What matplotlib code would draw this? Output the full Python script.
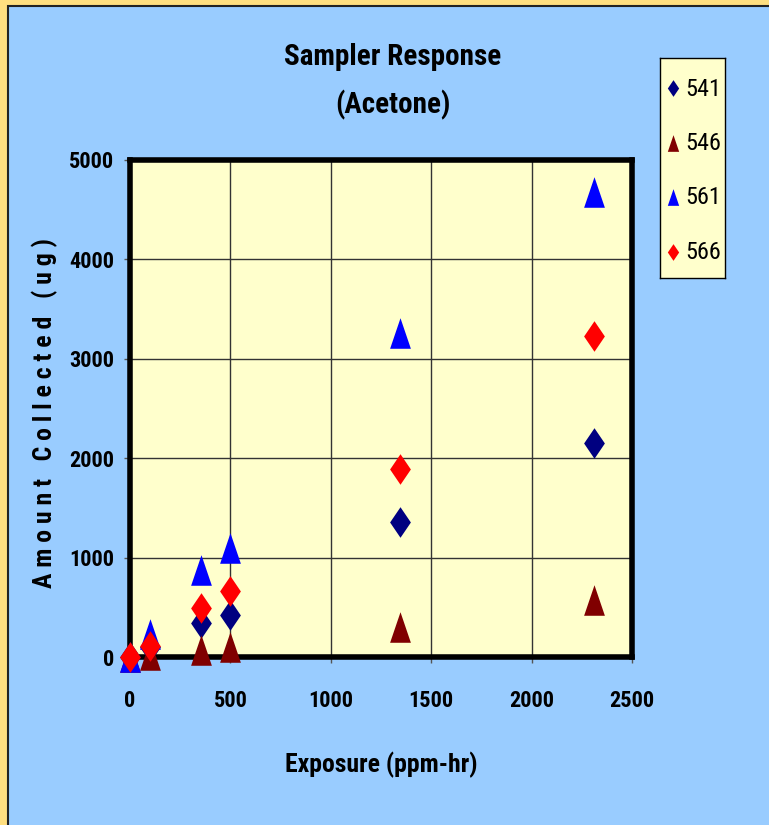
import matplotlib
matplotlib.use('Agg')
from matplotlib import pyplot as plt
from matplotlib.patches import Rectangle
from matplotlib.path import Path

# exposure (ppm-hr) and amount collected (ug) per sampler
exposure = [0, 100, 355, 497, 1345, 2310]
s541 = [0, 100, 340, 420, 1360, 2150]
s546 = [0, 25, 70, 100, 300, 575]
s561 = [0, 230, 880, 1100, 3260, 4680]
s566 = [0, 110, 490, 665, 1890, 3230]
labels = ['541', '546', '561', '566']

plt.rcParams['font.family'] = ['Roboto Condensed', 'Liberation Sans', 'DejaVu Sans']

diamond = Path([(0, 1), (0.68, 0), (0, -1), (-0.68, 0), (0, 1)],
               [Path.MOVETO, Path.LINETO, Path.LINETO, Path.LINETO, Path.CLOSEPOLY])
triangle = Path([(0, 1), (0.68, -1), (-0.68, -1), (0, 1)],
                [Path.MOVETO, Path.LINETO, Path.LINETO, Path.CLOSEPOLY])

W, H = 769, 825
fig = plt.figure(figsize=(W / 100, H / 100), dpi=100, facecolor='#FFDF80')
fig.patches.append(Rectangle((8 / W, -0.01), 1.0, 1 - 6 / H + 0.01, transform=fig.transFigure,
                             facecolor='#99CCFF', edgecolor='#222222', linewidth=1.5, zorder=-5))

ax = fig.add_axes([130 / W, 168 / H, 502 / W, 497 / H])
ax.set_facecolor('#FFFFCC')

series = [
    (s541, diamond, '#000080'),
    (s546, triangle, '#800000'),
    (s561, triangle, '#0000FF'),
    (s566, diamond, '#FF0000'),
]
for (vals, mk, col), lab in zip(series, labels):
    ax.plot(exposure, vals, linestyle='none', marker=mk, markersize=22,
            color=col, markeredgewidth=0, clip_on=False, label=lab, zorder=3)

ax.set_xlim(0, 2500)
ax.set_ylim(0, 5000)
ax.set_xticks(range(0, 2501, 500))
ax.set_yticks(range(0, 5001, 1000))
ax.grid(True, color='#333333', linewidth=1)
ax.set_axisbelow(True)
for sp in ax.spines.values():
    sp.set_linewidth(4)
    sp.set_color('black')
ax.tick_params(direction='out', length=4.5, width=1, color='#555555', labelsize=16)
ax.tick_params(axis='x', pad=19)
ax.tick_params(axis='y', pad=7)
for t in ax.get_xticklabels() + ax.get_yticklabels():
    t.set_fontweight('bold')

fig.text(381 / W, 1 - 765 / H, 'Exposure (ppm-hr)', ha='center', va='center',
         fontsize=18.5, fontweight='bold')
fig.text(45 / W, 1 - 413 / H, 'A m o u n t   C o l l e c t e d   ( u g )',
         ha='center', va='center', rotation=90, fontsize=18.5, fontweight='bold')

fig.text(393 / W, 1 - 57 / H, 'Sampler Response', ha='center', va='center',
         fontsize=21, fontweight='bold')
fig.text(393 / W, 1 - 105 / H, '(Acetone)', ha='center', va='center',
         fontsize=21, fontweight='bold')

# legend box drawn as its own small axes
lax = fig.add_axes([660 / W, (H - 278) / H, 65 / W, 220 / H])
lax.set_facecolor('#FFFFCC')
lax.set_xlim(0, 65)
lax.set_ylim(220, 0)
lax.set_xticks([])
lax.set_yticks([])
for sp in lax.spines.values():
    sp.set_linewidth(1)
    sp.set_color('black')
for i, ((vals, mk, col), lab) in enumerate(zip(series, labels)):
    y = 30 + i * 54.5
    lax.plot([13], [y], linestyle='none', marker=mk, markersize=12, color=col,
             markeredgewidth=0)
    lax.text(25, y + 1, lab, ha='left', va='center', fontsize=17.5)

fig.savefig('out.png', dpi=100, facecolor=fig.get_facecolor())
